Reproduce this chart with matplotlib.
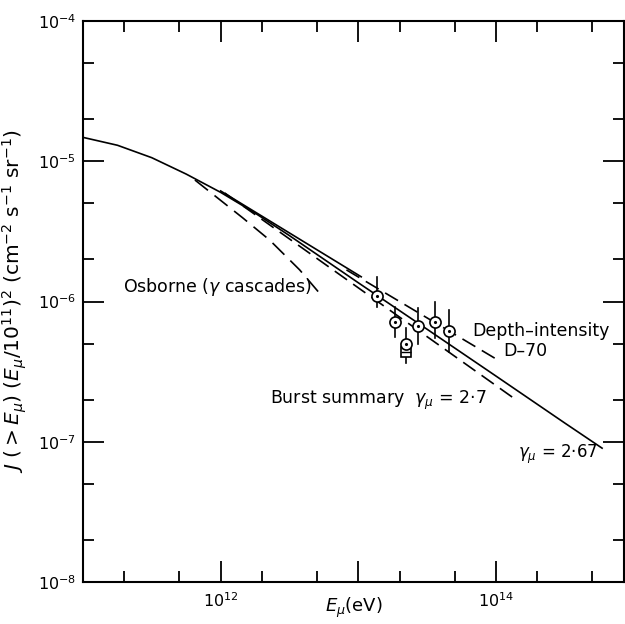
import numpy as np
import matplotlib.pyplot as plt
from matplotlib import ticker, transforms

# --- data ---------------------------------------------------------------
# main spectrum, gamma_mu = 2.67 (solid)
main_E = [1.0e11, 1.78e11, 3.16e11, 5.62e11, 1.0e12, 1.78e12, 3.16e12,
          1.0e13, 3.16e13, 1.0e14, 3.16e14, 5.9e14]
main_J = [1.48e-5, 1.30e-5, 1.06e-5, 8.1e-6, 6.0e-6, 4.27e-6, 2.95e-6,
          1.36e-6, 6.34e-7, 2.94e-7, 1.36e-7, 9.0e-8]

# burst summary, gamma_mu = 2.7 (dashed)
burst_E = [1.07e12, 1.37e14]
burst_J = [5.94e-6, 2.02e-7]

# upper solid segment + depth-intensity D-70 (dashed)
upper_E = [1.0e12, 1.05e13]
upper_J = [6.14e-6, 1.50e-6]
d70_E = [8.2e12, 1.03e14]
d70_J = [1.68e-6, 3.83e-7]

# Osborne (gamma cascades), dashed
osb_E = [6.5e11, 1.45e12, 2.27e12, 3.75e12, 5.5e12]
osb_J = [7.35e-6, 3.94e-6, 2.74e-6, 1.68e-6, 1.08e-6]

# burst points
pt_E = [1.36e13, 1.84e13, 2.21e13, 2.71e13, 3.6e13, 4.55e13]
pt_J = [1.1e-6, 7.15e-7, 4.98e-7, 6.68e-7, 7.15e-7, 6.17e-7]
pt_hi = [1.50e-6, 9.1e-7, 6.5e-7, 9.0e-7, 9.9e-7, 8.7e-7]
pt_lo = [9.1e-7, 5.6e-7, 3.64e-7, 4.98e-7, 5.5e-7, 4.37e-7]
pt_boxed = [False, False, True, False, False, False]

x_labelled = [1e12, 1e14]

# --- figure ---------------------------------------------------------------
fig = plt.figure(figsize=(6.25, 6.24), dpi=100)
ax = fig.add_axes([83/625, 42/624, 541/625, 561/624])
ax.set_xscale('log')
ax.set_yscale('log')
ax.set_xlim(1e11, 10**14.93)
ax.set_ylim(1e-8, 1e-4)

lw = 1.2
dash = (0, (9, 4.5))
ax.plot(main_E, main_J, color='k', lw=lw)
ax.plot(burst_E, burst_J, color='k', lw=lw, linestyle=dash)
ax.plot(upper_E, upper_J, color='k', lw=lw)
ax.plot(d70_E, d70_J, color='k', lw=lw, linestyle=dash)
ax.plot(osb_E, osb_J, color='k', lw=lw, linestyle=(0, (10, 5)))

# error bars and markers
for E, J, hi, lo, boxed in zip(pt_E, pt_J, pt_hi, pt_lo, pt_boxed):
    ax.plot([E, E], [lo, hi], color='k', lw=lw, zorder=3)
    if boxed:
        tr = transforms.offset_copy(ax.transData, fig=fig, y=-6, units='points')
        ax.plot(E, J, marker='s', ms=7.5, mfc='white', mec='k', mew=1.2,
                transform=tr, zorder=4)
        ax.plot(E, J, marker='_', ms=7.5, mec='k', mew=1.0,
                transform=tr, zorder=5)
    ax.plot(E, J, marker='o', ms=8, mfc='white', mec='k', mew=1.2, zorder=6)
    ax.plot(E, J, marker='.', ms=2.5, color='k', zorder=7)

# ticks
ax.xaxis.set_major_locator(ticker.FixedLocator([1e11, 1e12, 1e13, 1e14]))
ax.xaxis.set_minor_locator(ticker.LogLocator(base=10, subs=(2, 5), numticks=20))
ax.yaxis.set_major_locator(ticker.LogLocator(base=10, numticks=10))
ax.yaxis.set_minor_locator(ticker.LogLocator(base=10, subs=(2, 5), numticks=20))


def xfmt(v, pos):
    if any(abs(v/l - 1) < 1e-6 for l in x_labelled):
        return r'$\mathdefault{10^{%d}}$' % round(np.log10(v))
    return ''


ax.xaxis.set_major_formatter(ticker.FuncFormatter(xfmt))
ax.xaxis.set_minor_formatter(ticker.NullFormatter())
ax.yaxis.set_minor_formatter(ticker.NullFormatter())
ax.tick_params(which='both', direction='in', top=True, right=True,
               width=1.3, labelsize=11.5)
ax.tick_params(which='major', length=15)
ax.tick_params(which='minor', length=8)
ax.tick_params(axis='x', which='major', pad=7)
ax.tick_params(axis='y', which='major', pad=5)
for s in ax.spines.values():
    s.set_linewidth(1.5)

ax.set_xlabel(r'$E_\mu$(eV)', fontsize=13)
ax.xaxis.set_label_coords(0.5, -0.025)
ax.set_ylabel(r'$J\ (>E_\mu)\ (E_\mu/10^{11})^2\ (\mathrm{cm^{-2}\ s^{-1}\ sr^{-1}})$',
              fontsize=14.5)
ax.yaxis.set_label_coords(-0.1, 0.5)

# annotations
kw = dict(transform=ax.transAxes, fontsize=12.5, va='center', ha='left')
ax.text(0.074, 0.526, r'Osborne ($\gamma$ cascades)', **kw)
ax.text(0.719, 0.447, 'Depth\u2013intensity', **kw)
ax.text(0.776, 0.412, 'D\u201370', **kw)
ax.text(0.346, 0.323, 'Burst summary  $\\gamma_\\mu$ = 2\u00b77', **kw)
ax.text(0.804, 0.228, '$\\gamma_\\mu$ = 2\u00b767', fontsize=12,
        transform=ax.transAxes, va='center', ha='left')

fig.savefig('out.png', dpi=100)
